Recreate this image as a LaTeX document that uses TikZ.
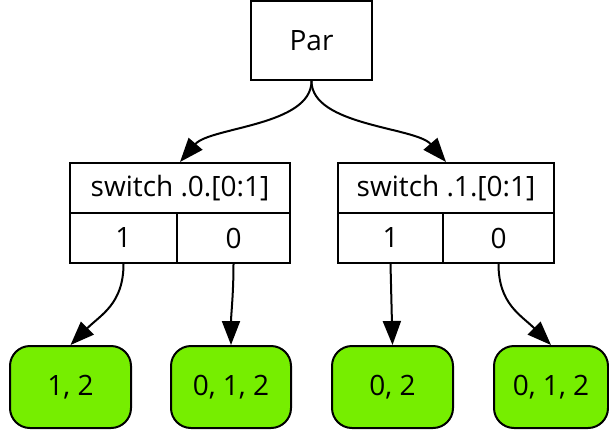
\documentclass[tikz,border=0pt]{standalone}
\usepackage{fontspec}
\setmainfont{Open Sans}
\usepackage{xcolor}
\usepackage{tikz}
\usetikzlibrary{arrows.meta,positioning}
\definecolor{ink}{HTML}{000000}
\definecolor{leafg}{HTML}{76EE00}
\tikzset{
  parbox/.style={draw=ink,line width=2pt,fill=white,minimum width=121pt,minimum height=79pt,inner sep=0pt,font=\fontsize{28}{32}\selectfont},
  field/.style={draw=ink,line width=2pt,fill=white,minimum height=50pt,inner sep=0pt,font=\fontsize{28}{32}\selectfont},
  leaf/.style={draw=ink,line width=2pt,fill=leafg,rounded corners=20pt,minimum height=82pt,inner sep=0pt,font=\fontsize{28}{32}\selectfont},
  flow/.style={-{Triangle[length=24pt,width=18pt]},line width=2pt,draw=ink}
}
\begin{document}
\begin{tikzpicture}[x=1pt,y=1pt]
  \useasboundingbox[fill=white] (0,0) rectangle (609,432);
  \node[parbox] (par) at (311.5,391.5) {Par};
  % switch .0.
  \node[field,minimum width=220pt] (swA) at (180,244) {switch .0.[0:1]};
  \node[field,minimum width=107pt] (swAone) at (123.5,194) {1};
  \node[field,minimum width=113pt] (swAzero) at (233.5,194) {0};
  % switch .1.
  \node[field,minimum width=216pt] (swB) at (446,244) {switch .1.[0:1]};
  \node[field,minimum width=105pt] (swBone) at (390.5,194) {1};
  \node[field,minimum width=111pt] (swBzero) at (498.5,194) {0};
  % leaves
  \node[leaf,minimum width=121pt] (lfA) at (70.5,45) {1, 2};
  \node[leaf,minimum width=120pt] (lfB) at (231,45) {0, 1, 2};
  \node[leaf,minimum width=121pt] (lfC) at (392.5,45) {0, 2};
  \node[leaf,minimum width=114pt] (lfD) at (551,45) {0, 1, 2};
  \draw[flow] (par.south) .. controls +(0,-45) and +(30,35) .. (swA.north);
  \draw[flow] (par.south) .. controls +(0,-45) and +(-30,35) .. (swB.north);
  \draw[flow] (swAone.south) .. controls +(0,-40) and +(30,30) .. (lfA.north);
  \draw[flow] (swAzero.south) .. controls +(0,-30) and +(0,30) .. (lfB.north);
  \draw[flow] (swBone.south) -- (lfC.north);
  \draw[flow] (swBzero.south) .. controls +(0,-40) and +(-30,30) .. (lfD.north);
\end{tikzpicture}
\end{document}
